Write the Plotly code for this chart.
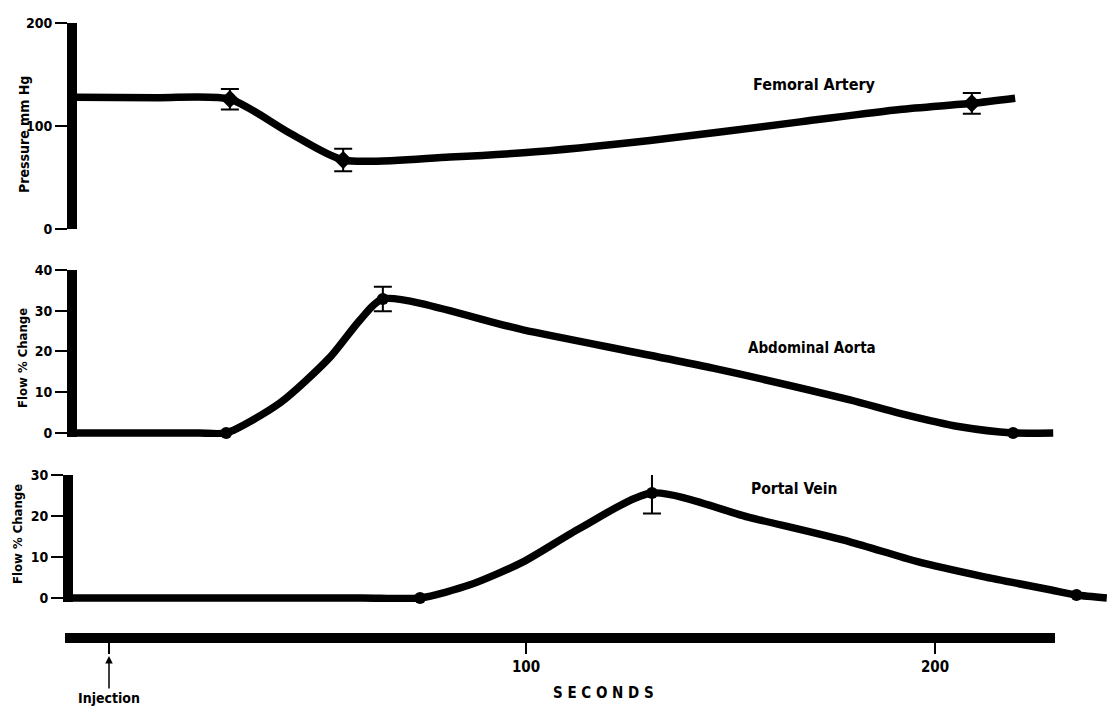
import plotly.graph_objects as go

W, H = 1111, 712
FONT = "DejaVu Sans Condensed, Liberation Sans Narrow, Arial Narrow, sans-serif"

# ---------------- data (seconds, value) ----------------
fem_curve_x = [-10, 10, 27.6, 42.3, 55.3, 81.4, 99.3, 130.3, 167, 191.4, 209, 219.6]
fem_curve_y = [128, 127.5, 126, 93, 67, 70, 74, 86, 104, 116, 122, 127]
fem_pts_x = [27.6, 55.3, 209]
fem_pts_y = [126, 67, 122]
fem_err = [10, 11, 10]

aor_curve_x = [-10, 10, 20, 26.7, 39.9, 52.1, 59.4, 65, 99.3, 145.7, 179.2, 191.4, 206.1, 219.1, 228.9]
aor_curve_y = [0, 0, 0, 0, 7.4, 18.6, 27.7, 32.9, 25.3, 15.9, 8.1, 4.8, 1.5, 0, 0]
aor_pts_x = [26.7, 65, 219.1]
aor_pts_y = [0, 32.9, 0]
aor_err = [0, 3, 0]

por_curve_x = [-11, 30, 60, 74.1, 86.3, 99.3, 113.2, 130.8, 154.8, 179.2, 195.5, 211.8, 228.1, 234.6, 242]
por_curve_y = [0, 0, 0, 0, 3.2, 8.8, 17, 25.6, 19.6, 13.7, 8.9, 5.2, 2.0, 0.7, 0]
por_pts_x = [74.1, 130.8, 234.6]
por_pts_y = [0, 25.6, 0.7]
por_err = [0, 5, 0]

y1_ticks = [0, 100, 200]
y2_ticks = [0, 10, 20, 30, 40]
y3_ticks = [0, 10, 20, 30]
x_ticks = [-2, 100, 200]
x_ticklabels = ["", "100", "200"]

# ---------------- helpers (pixel -> paper) ----------------
def px(x):
    return x / W

def py(y):
    return (H - y) / H

PXS = 4.09      # pixels per second
X0 = 117        # pixel of 0 s

def sec(p):
    return (p - X0) / PXS

fig = go.Figure()

def add_series(cx, cy, ptx, pty, err, yref, sym, msize):
    fig.add_trace(go.Scatter(x=cx, y=cy, mode="lines", xaxis="x", yaxis=yref,
                             line=dict(color="black", width=7.5, shape="spline", smoothing=0.7),
                             hoverinfo="skip", showlegend=False))
    fig.add_trace(go.Scatter(x=ptx, y=pty, mode="markers", xaxis="x", yaxis=yref,
                             marker=dict(color="black", size=msize, symbol=sym),
                             error_y=dict(type="data", array=err, color="black",
                                          thickness=2, width=9, visible=True),
                             showlegend=False, cliponaxis=False))

add_series(fem_curve_x, fem_curve_y, fem_pts_x, fem_pts_y, fem_err, "y", "diamond", 14)
add_series(aor_curve_x, aor_curve_y, aor_pts_x, aor_pts_y, aor_err, "y2", "circle", 12)
add_series(por_curve_x, por_curve_y, por_pts_x, por_pts_y, por_err, "y3", "circle", 12)

# dummy trace so the bottom seconds axis is drawn
fig.add_trace(go.Scatter(x=[None], y=[None], xaxis="x2", yaxis="y3",
                         showlegend=False, hoverinfo="skip"))

tickfont = dict(family=FONT, size=14, color="black", weight="bold")

def yax(domain, rng, ticks, pos):
    return dict(domain=domain, range=rng, anchor="free", position=pos,
                showline=True, linewidth=10, linecolor="black",
                ticks="outside", ticklen=12, tickwidth=2, tickcolor="black",
                tickvals=ticks, ticktext=[str(t) for t in ticks],
                tickfont=tickfont, showgrid=False, zeroline=False,
                automargin=False, fixedrange=True)

fig.update_layout(
    template="none",
    width=W, height=H,
    margin=dict(l=0, r=0, t=0, b=0, pad=0, autoexpand=False),
    paper_bgcolor="white", plot_bgcolor="rgba(0,0,0,0)",
    showlegend=False,
    xaxis=dict(domain=[0, 1], range=[sec(0), sec(W)], visible=False,
               showgrid=False, zeroline=False, automargin=False, fixedrange=True),
    xaxis2=dict(domain=[px(65), px(1055)], range=[sec(65), sec(1055)],
                anchor="free", position=py(638),
                showline=True, linewidth=10, linecolor="black",
                ticks="outside", ticklen=11, tickwidth=2, tickcolor="black",
                tickvals=x_ticks, ticktext=x_ticklabels,
                tickfont=dict(family=FONT, size=15, color="black", weight="bold"),
                showgrid=False, zeroline=False, automargin=False, fixedrange=True),
    yaxis=yax([py(229), py(23)], [0, 200], y1_ticks, px(72)),
    yaxis2=yax([py(437), py(270)], [-1, 40], y2_ticks, px(72)),
    yaxis3=yax([py(602), py(475)], [-1, 30], y3_ticks, px(68)),
)

def ann(text, x, y, size=17, angle=0, **kw):
    fig.add_annotation(text=text, x=px(x), y=py(y), xref="paper", yref="paper",
                       showarrow=False, textangle=angle,
                       font=dict(family=FONT, size=size, color="black", weight="bold"),
                       xanchor="center", yanchor="middle", **kw)

ann("Pressure mm Hg", 24, 135, 14, -90)
ann("Flow % Change", 22, 358, 13, -90)
ann("Flow % Change", 17, 534, 13, -90)
ann("Femoral Artery", 814, 85, 16)
ann("Abdominal Aorta", 812, 348, 15)
ann("Portal Vein", 794, 489, 15.5)
ann("S E C O N D S", 603, 693, 15)

fig.add_annotation(text="Injection", x=px(109), y=py(656), xref="paper", yref="paper",
                   showarrow=True, ax=0, ay=42,
                   arrowhead=2, arrowsize=1, arrowwidth=1.5, arrowcolor="black",
                   standoff=0, startstandoff=0,
                   font=dict(family=FONT, size=14, color="black", weight="bold"))

fig.write_html("out.html", config={"displayModeBar": False},
               post_script="document.body.style.margin='0';document.body.style.padding='0';")
